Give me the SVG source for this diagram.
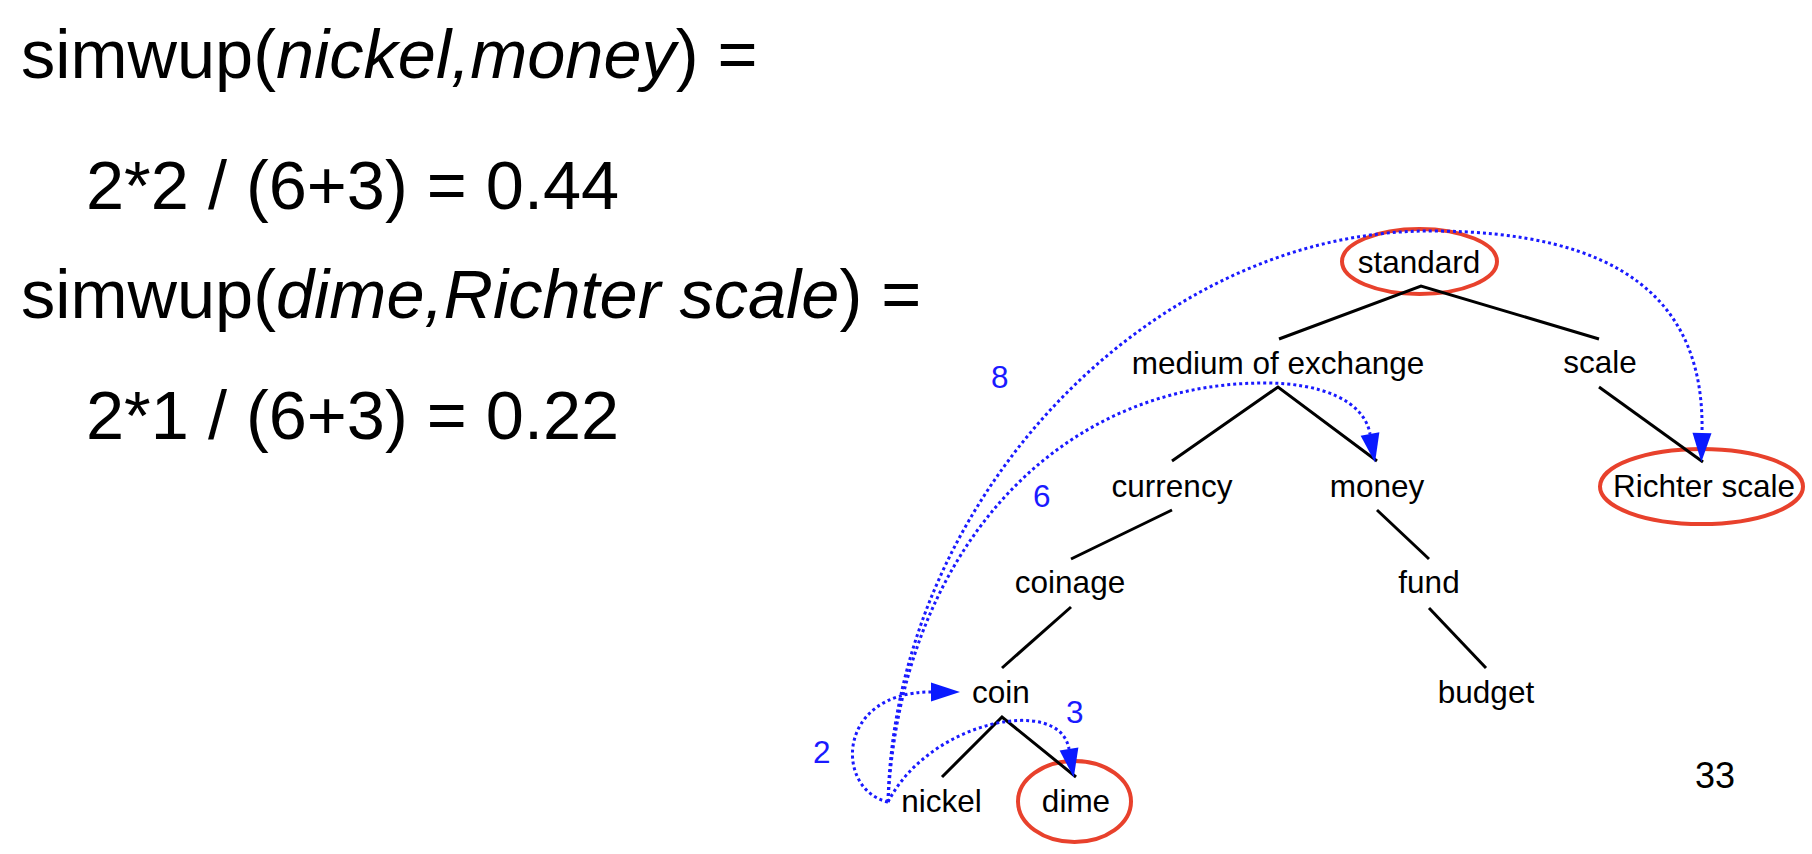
<svg xmlns="http://www.w3.org/2000/svg" width="1812" height="854" viewBox="0 0 1812 854">
<defs>
<style>
.big{font-family:"Liberation Sans",Arial,Helvetica,sans-serif;font-size:68.5px;fill:#000}
.lbl{font-family:"Liberation Sans",Arial,Helvetica,sans-serif;font-size:31.5px;fill:#000;text-anchor:middle}
.num{font-family:"Liberation Sans",Arial,Helvetica,sans-serif;font-size:31.5px;fill:#1a1aff}
.edge{stroke:#000;stroke-width:3;fill:none}
.hl{fill:none;stroke:#e8412c;stroke-width:4}
.dot{fill:none;stroke:#1a1aff;stroke-width:3;stroke-dasharray:3 3;marker-end:url(#ah)}
</style>
<marker id="ah" markerUnits="userSpaceOnUse" markerWidth="30" markerHeight="20" refX="0" refY="9.5" orient="auto" overflow="visible">
<path d="M0,0 L29,9.5 L0,19 z" fill="#0a1aff"/>
</marker>
</defs>
<rect width="1812" height="854" fill="#fff"/>
<g id="formulas">
<text class="big" x="21" y="78">simwup(<tspan font-style="italic">nickel,money</tspan>) =</text>
<text class="big" x="86" y="209">2*2 / (6+3) = 0.44</text>
<text class="big" x="21" y="318">simwup(<tspan font-style="italic">dime,Richter scale</tspan>) =</text>
<text class="big" x="86" y="439">2*1 / (6+3) = 0.22</text>
</g>
<g id="highlights">
<ellipse class="hl" cx="1419.5" cy="261.5" rx="77.5" ry="32.5"/>
<ellipse class="hl" cx="1701.5" cy="486.5" rx="101.5" ry="37.5"/>
<ellipse class="hl" cx="1074.5" cy="801.5" rx="56.5" ry="40.5"/>
</g>
<g id="node-standard"><text class="lbl" x="1419" y="273">standard</text></g>
<g id="node-medium"><text class="lbl" x="1278" y="374">medium of exchange</text></g>
<g id="node-scale"><text class="lbl" x="1600" y="373">scale</text></g>
<g id="node-currency"><text class="lbl" x="1172" y="497">currency</text></g>
<g id="node-money"><text class="lbl" x="1377" y="497">money</text></g>
<g id="node-richter"><text class="lbl" x="1704" y="497">Richter scale</text></g>
<g id="node-coinage"><text class="lbl" x="1070" y="593">coinage</text></g>
<g id="node-fund"><text class="lbl" x="1429" y="593">fund</text></g>
<g id="node-coin"><text class="lbl" x="1001" y="703">coin</text></g>
<g id="node-budget"><text class="lbl" x="1486" y="703">budget</text></g>
<g id="node-nickel"><text class="lbl" x="941.5" y="812">nickel</text></g>
<g id="node-dime"><text class="lbl" x="1076" y="812">dime</text></g>
<g id="connectors">
<polyline class="edge" points="1279,339 1421,286 1599,339"/>
<polyline class="edge" points="1172,461 1278,387 1377,461"/>
<line class="edge" x1="1599" y1="387" x2="1703" y2="462"/>
<line class="edge" x1="1172" y1="510" x2="1071" y2="559"/>
<line class="edge" x1="1071" y1="607" x2="1002" y2="668"/>
<line class="edge" x1="1377" y1="510" x2="1429" y2="559"/>
<line class="edge" x1="1429" y1="608" x2="1486" y2="668"/>
<polyline class="edge" points="942,777 1002,717 1076,777"/>
<path class="dot" d="M888,802 C835,790 835,692 931,692"/>
<path class="dot" d="M888,802 C930,720 1060,695 1069,749"/>
<path class="dot" d="M888,802 C900,560 1050,383 1265,383 C1320,383 1364,400 1370,434"/>
<path class="dot" d="M888,802 C895,500 1150,231 1430,231 C1620,231 1705,300 1702,433"/>
</g>
<g id="path-labels">
<text class="num" x="991" y="388">8</text>
<text class="num" x="1033" y="507">6</text>
<text class="num" x="1066" y="723">3</text>
<text class="num" x="813" y="763">2</text>
</g>
<g id="page-number"><text x="1695" y="788" font-family="'Liberation Sans',Arial,sans-serif" font-size="36" fill="#000">33</text></g>
</svg>
